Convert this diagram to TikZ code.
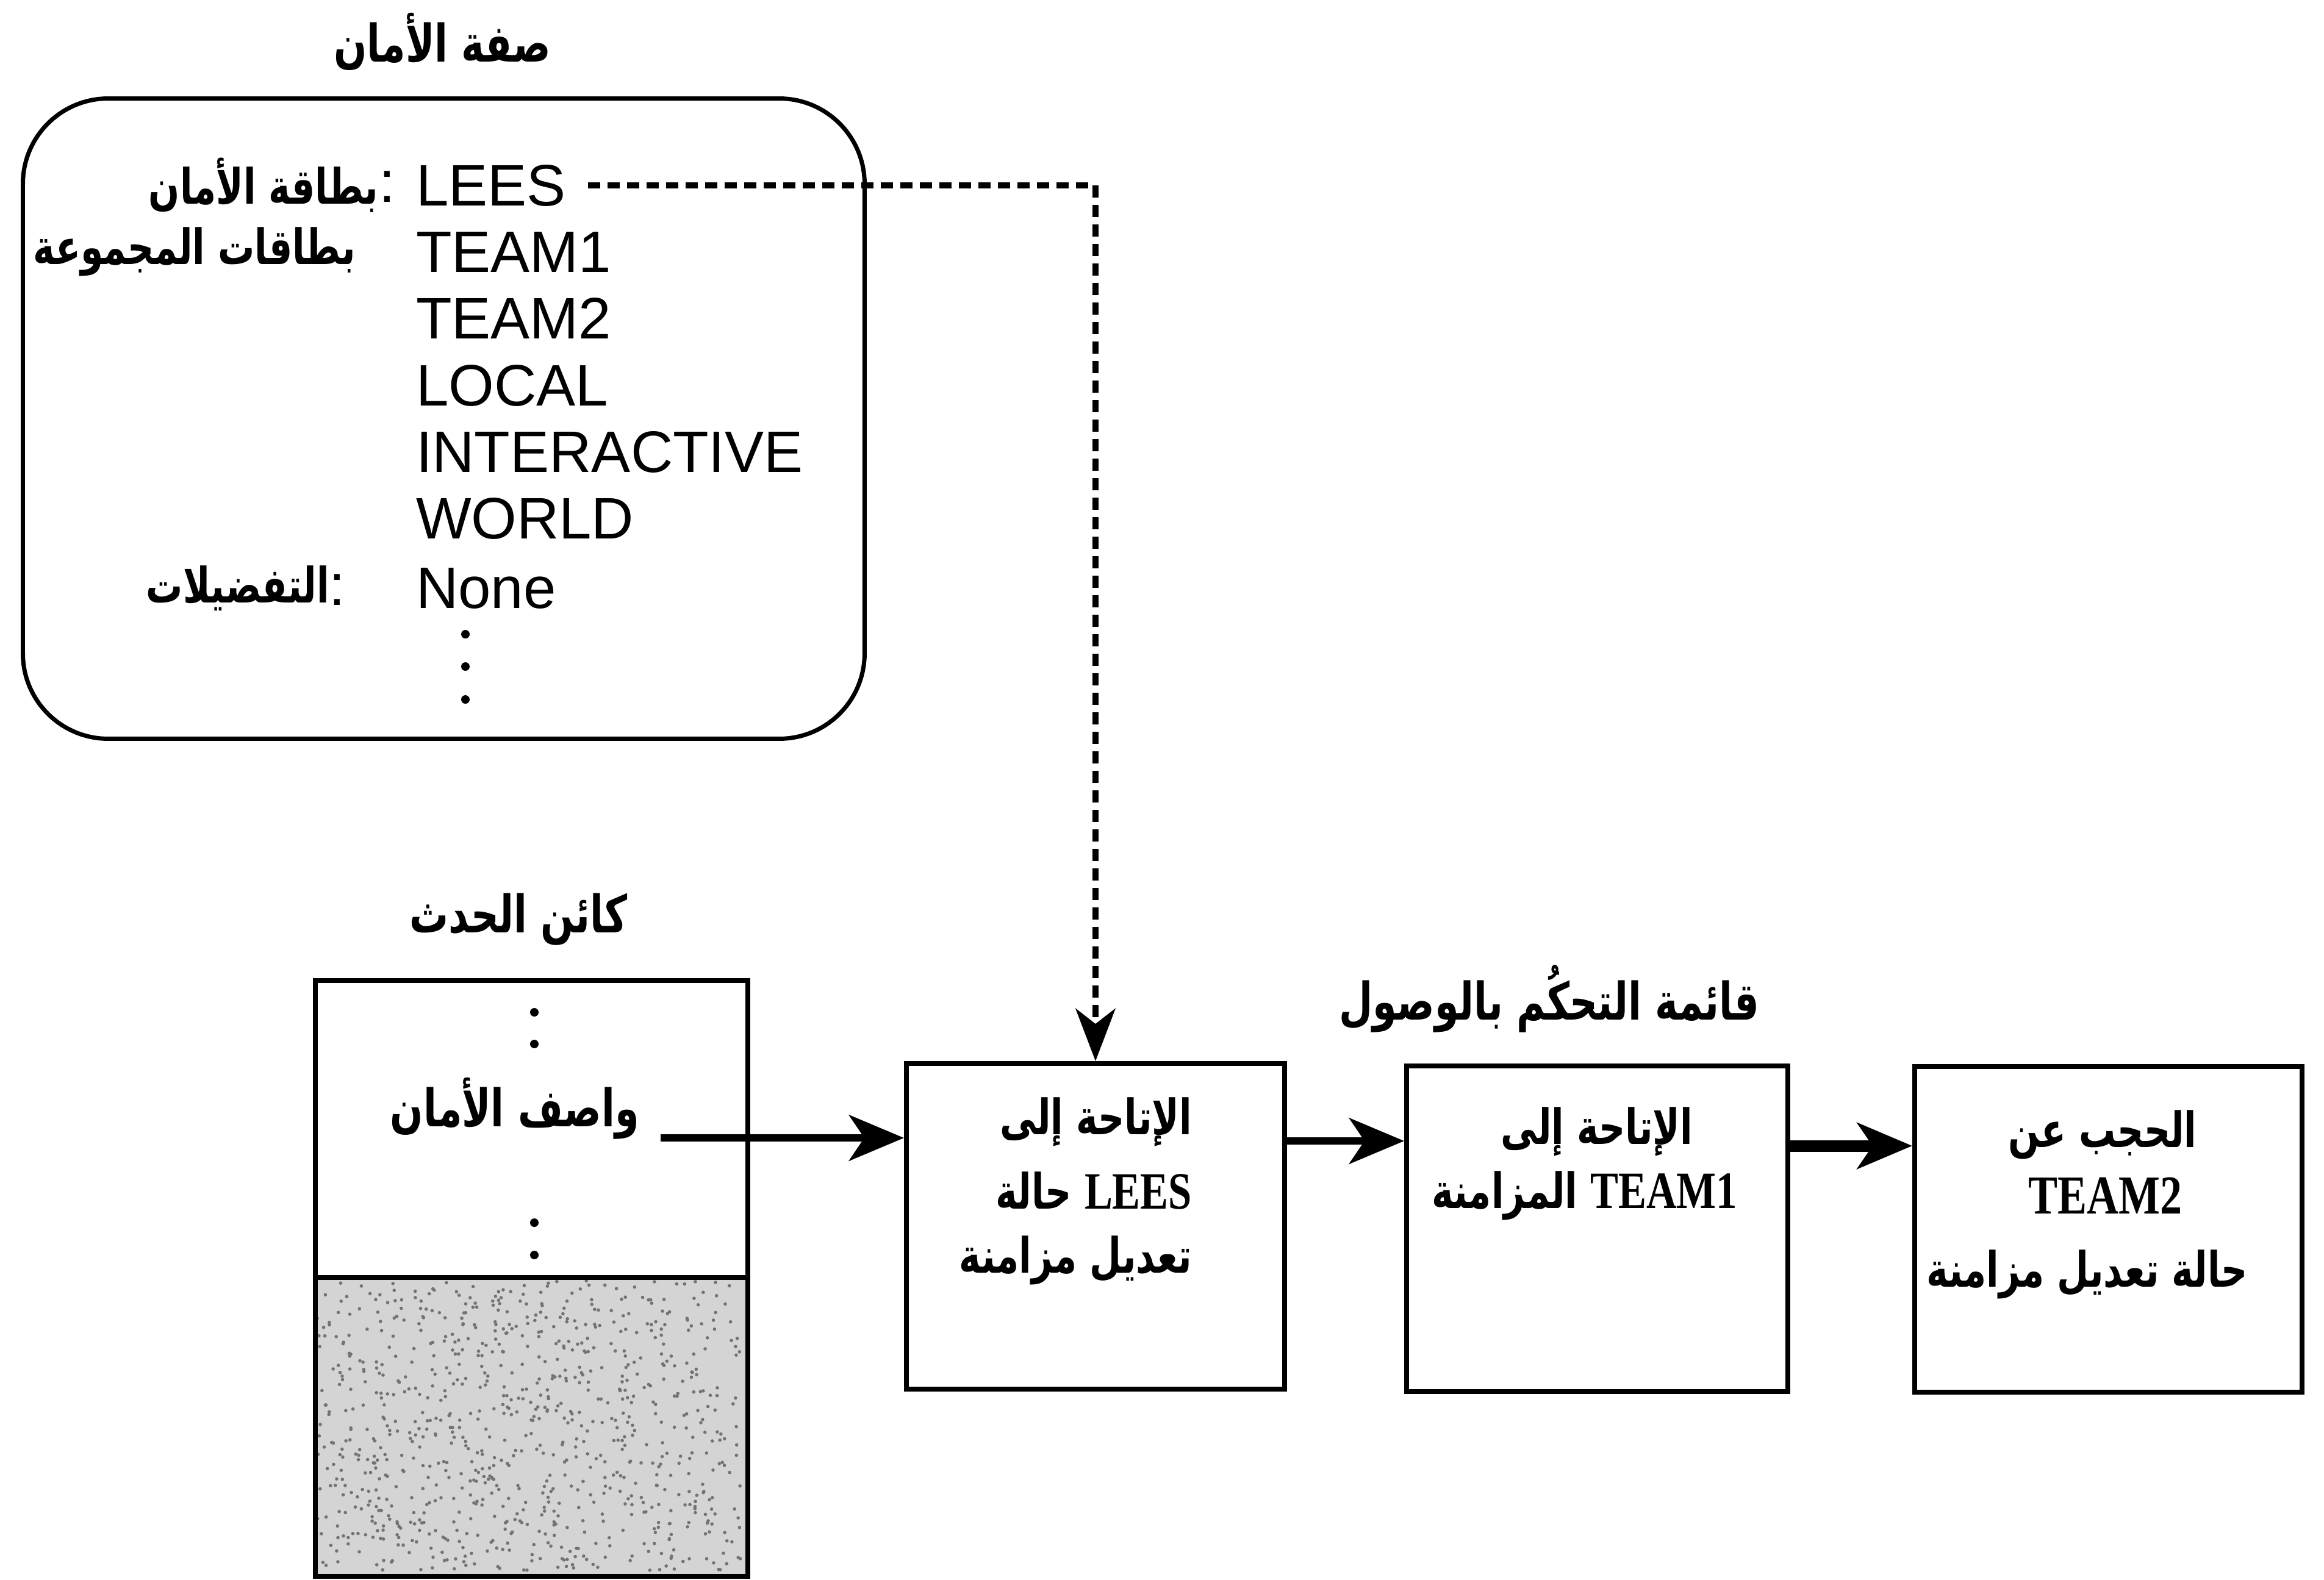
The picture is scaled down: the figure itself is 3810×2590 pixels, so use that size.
\documentclass[tikz,border=0pt]{standalone}
\usepackage{fontspec}
\setmainfont{Liberation Sans}
\newfontfamily\serifb[FakeStretch=0.8]{Liberation Serif}
\newfontfamily\arabicfont[Script=Arabic,FakeStretch=0.75]{DejaVu Sans}
\TeXXeTstate=1
\usetikzlibrary{arrows.meta}
\newcommand{\artxt}[1]{{\arabicfont\bfseries\beginR #1\endR}}
\tikzset{
  lat/.style={font=\fontsize{9.6}{10}\selectfont, inner sep=0pt, anchor=west},
  arlab/.style={font=\fontsize{8}{8}\selectfont, inner sep=0pt, anchor=east},
  heading/.style={font=\fontsize{8.5}{8.5}\selectfont, inner sep=0pt},
  boxtxt/.style={font=\fontsize{8}{8}\selectfont, inner sep=0pt},
  acbox/.style={draw, line width=0.8pt, minimum width=62pt, minimum height=53.4pt, anchor=north west, inner sep=0pt},
  arr/.style={line width=1.2pt, -{Stealth[length=9pt,width=7.5pt,inset=2.5pt]}},
  dashline/.style={line width=1pt, dash pattern=on 2pt off 1.2pt},
  dotmark/.style={circle, fill, inner sep=0pt, minimum size=1.4pt},
  speck/.style={fill=black!55}
}
\begin{document}
\begin{tikzpicture}[x=0.1pt,y=-0.1pt]
\useasboundingbox (0,0) rectangle (3810,2590);
% security attribute
\node[heading] (sattitle) at (725,68) {\artxt{صفة الأمان}};
\node[draw, line width=0.7pt, rounded corners=14pt, minimum width=138pt, minimum height=105pt, anchor=north west, inner sep=0pt] (sec) at (34,158) {};
\node[lat] (l1) at (680,304) {LEES};
\node[lat] (l2) at (680,413) {TEAM1};
\node[lat] (l3) at (680,522) {TEAM2};
\node[lat] (l4) at (680,632) {LOCAL};
\node[lat] (l5) at (680,741) {INTERACTIVE};
\node[lat] (l6) at (680,850) {WORLD};
\node[lat] (l7) at (680,965) {None};
\node[dotmark] (d1) at (763,1040) {};
\node[dotmark] (d2) at (763,1093) {};
\node[dotmark] (d3) at (763,1147) {};
\node[lat, anchor=east] (c1) at (650,306) {:};
\node[arlab] (a1) at (622,304) {\artxt{بطاقة الأمان}};
\node[arlab] (a2) at (585,413) {\artxt{بطاقات المجموعة}};
\node[lat, anchor=east] (c7) at (568,967) {:};
\node[arlab] (a7) at (542,965) {\artxt{التفضيلات}};
% event object
\node[heading] (evtitle) at (850,1508) {\artxt{كائن الحدث}};
\coordinate (dv) at (0,2095);
\fill[black!17] (513,2095) rectangle (1222,2581);
\pgfmathsetseed{7}
\foreach \i in {1,...,900} {
  \pgfmathsetmacro\rx{520+695*rnd}
  \pgfmathsetmacro\ry{2100+475*rnd}
  \fill[speck] (\rx,\ry) circle[radius=0.28pt];
}
\node[draw, line width=0.8pt, minimum width=70.9pt, minimum height=97.7pt, anchor=north west, inner sep=0pt] (ev) at (513,1604) {};
\draw[line width=0.8pt] (ev.west |- dv) -- (ev.east |- dv);
\node[dotmark] (e1) at (876,1660) {};
\node[dotmark] (e2) at (876,1712) {};
\node[dotmark] (e3) at (876,2005) {};
\node[dotmark] (e4) at (876,2058) {};
\node[heading, anchor=east] (sd) at (1050,1818) {\artxt{واصف الأمان}};
\coordinate (sdout) at (1083,1866);
% ACL
\node[heading] (acltitle) at (2540,1638) {\artxt{قائمة التحكُم بالوصول}};
\node[acbox] (b1) at (1482,1740) {};
\node[acbox, minimum width=62.5pt] (b2) at (2302,1744) {};
\node[acbox, minimum width=63.5pt] (b3) at (3135,1745) {};
\node[boxtxt, anchor=east] (t1a) at (1956,1840) {\artxt{الإتاحة إلى}};
\node[boxtxt, anchor=east] (t1b) at (1956,1952) {\artxt{{\serifb\fontsize{8.6}{8.6}\selectfont LEES} حالة}};
\node[boxtxt, anchor=east] (t1c) at (1956,2067) {\artxt{تعديل مزامنة}};
\node[boxtxt, anchor=east] (t2a) at (2777,1856) {\artxt{الإتاحة إلى}};
\node[boxtxt, anchor=east] (t2b) at (2850,1961) {\artxt{{\serifb\fontsize{8.6}{8.6}\selectfont TEAM1} المزامنة}};
\node[boxtxt] (t3a) at (3447,1861) {\artxt{الحجب عن}};
\node[boxtxt, font=\fontsize{9}{9}\selectfont] (t3b) at (3451,1961) {{\serifb\bfseries TEAM2}};
\node[boxtxt] (t3c) at (3422,2090) {\artxt{حالة تعديل مزامنة}};
% connectors
\coordinate (ds) at ([xshift=3.5pt]l1.east);
\draw[dashline, -{Stealth[length=8.6pt,width=6.5pt,inset=2.5pt]}] (ds) -- (ds -| b1.north) -- (b1.north);
\draw[arr] (sdout) -- (sdout -| b1.west);
\draw[arr] ([yshift=14pt]b1.east) -- ([yshift=14pt]b1.east -| b2.west);
\draw[arr, line width=1.9pt] ([yshift=13.6pt]b2.east) -- ([yshift=13.6pt]b2.east -| b3.west);
\end{tikzpicture}
\end{document}
